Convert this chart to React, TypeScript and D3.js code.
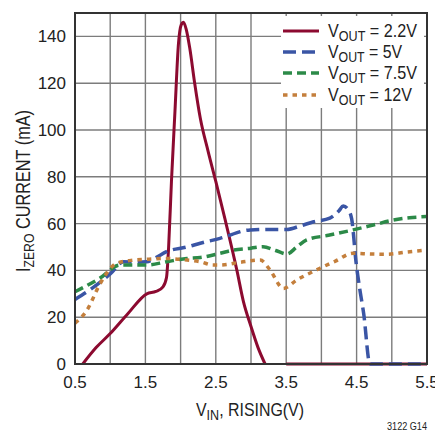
import React from "react";
import * as d3 from "d3";

const vin22 = [0.61, 0.8, 1.0, 1.25, 1.52, 1.65, 1.75, 1.8, 1.83, 1.87, 1.92, 1.97, 2.01, 2.04, 2.08, 2.13, 2.2, 2.28, 2.39, 2.5, 2.63, 2.8, 2.89, 3.0, 3.1, 3.2];
const iz22 = [0, 7, 13, 21.5, 30, 31, 33, 37, 50, 78, 108, 137, 145, 146, 143, 135, 120, 105, 91, 78, 62, 40, 27, 16, 7, 0];
const vin22b = [3.5, 5.5];
const iz22b = [0, 0];

const vin5 = [0.5, 0.75, 1.0, 1.19, 1.35, 1.52, 1.65, 1.8, 2.09, 2.28, 2.56, 2.99, 3.3, 3.51, 3.7, 3.89, 4.12, 4.25, 4.31, 4.38, 4.43, 4.46, 4.48, 4.53, 4.6, 4.69, 5.5];
const iz5 = [27.6, 32.5, 38.5, 43.7, 43.5, 43.7, 45.5, 48, 50, 51.6, 53.7, 57.3, 57.5, 57.5, 59, 60.8, 62.3, 65.5, 67.5, 66, 62, 54, 47, 35, 21.7, 0, 0];

const vin75 = [0.5, 0.85, 1.14, 1.52, 1.8, 2.09, 2.28, 2.56, 2.75, 3.0, 3.17, 3.35, 3.51, 3.65, 3.79, 4.1, 4.45, 4.75, 5.02, 5.25, 5.5];
const iz75 = [30.9, 36.6, 42.3, 42.3, 43.7, 45.1, 45.5, 47.3, 48.7, 49.5, 50.1, 48.5, 47, 50, 53, 55, 57.3, 59.5, 61.5, 62.5, 63];

const vin12 = [0.5, 0.67, 0.86, 1.09, 1.33, 1.55, 1.8, 2.09, 2.28, 2.46, 2.56, 2.85, 3.13, 3.27, 3.46, 3.65, 3.98, 4.2, 4.45, 4.7, 4.93, 5.2, 5.5];
const iz12 = [17.4, 23, 34.5, 43, 44.4, 44.8, 45.1, 44.4, 43.7, 42.3, 42.3, 43.5, 44.4, 40.2, 32.3, 35.9, 40.9, 44, 47.3, 47, 46.9, 47.8, 48.7];

const xTickLabels = ["0.5", "1.5", "2.5", "3.5", "4.5", "5.5"];
const yTickLabels = ["0", "20", "40", "60", "80", "100", "120", "140"];
const legendLabels = ["2.2V", "5V", "7.5V", "12V"];

const RED = "#8c0a30";
const BLUE = "#3a55a5";
const GREEN = "#2c8a48";
const ORANGE = "#c47f3c";

const L = 75, R = 427, T = 13, B = 364;
const FONT = "'Liberation Sans', Arial, sans-serif";

export default function App() {
  const x = d3.scaleLinear().domain([0.5, 5.5]).range([L, R]);
  const y = d3.scaleLinear().domain([0, 150]).range([B, T]);
  const line = d3
    .line<[number, number]>()
    .x((d) => x(d[0]))
    .y((d) => y(d[1]))
    .curve(d3.curveMonotoneX);
  const zip = (a: number[], b: number[]) => a.map((v, i) => [v, b[i]] as [number, number]);

  const series = [
    { d: [zip(vin22, iz22), zip(vin22b, iz22b)], color: RED, dash: "none", w: 3 },
    { d: [zip(vin5, iz5)], color: BLUE, dash: "13 6", w: 3.5 },
    { d: [zip(vin75, iz75)], color: GREEN, dash: "9 5", w: 3.5 },
    { d: [zip(vin12, iz12)], color: ORANGE, dash: "4.5 5", w: 3.5 },
  ];

  const xGrid = d3.range(0.5, 5.51, 0.5);
  const yGrid = d3.range(0, 151, 20);
  const legendY = [31, 52, 73, 95];
  const legendLen = [89, 74, 89, 84];

  return (
    <svg width={435} height={433} style={{ position: "absolute", left: 0, top: 0, background: "#fff" }}>
      <rect x={0} y={0} width={435} height={433} fill="#fff" />
      {xGrid.map((v) => (
        <line key={"xg" + v} x1={x(v)} x2={x(v)} y1={T} y2={B} stroke="#7c7c7c" strokeWidth={1.4} />
      ))}
      {yGrid.map((v) => (
        <line key={"yg" + v} x1={L} x2={R} y1={y(v)} y2={y(v)} stroke="#7c7c7c" strokeWidth={1.4} />
      ))}
      <rect x={281} y={16} width={143} height={92} fill="#fff" />
      {series.map((s, i) =>
        s.d.map((seg, j) => (
          <path
            key={"s" + i + "_" + j}
            d={line(seg) || ""}
            fill="none"
            stroke={s.color}
            strokeWidth={s.w}
            strokeDasharray={s.dash}
            strokeLinejoin="round"
          />
        ))
      )}
      <rect x={L} y={T} width={R - L} height={B - T} fill="none" stroke="#333" strokeWidth={2} />
      {yTickLabels.map((t) => (
        <text key={"yt" + t} x={66} y={y(+t) + 6} textAnchor="end" fontSize={17} fontFamily={FONT} fill="#222">
          {t}
        </text>
      ))}
      {xTickLabels.map((t) => (
        <text key={"xt" + t} x={x(+t)} y={388} textAnchor="middle" fontSize={17} fontFamily={FONT} fill="#222">
          {t}
        </text>
      ))}
      {series.map((s, i) => (
        <g key={"lg" + i}>
          <line x1={283} x2={319} y1={legendY[i]} y2={legendY[i]} stroke={s.color} strokeWidth={s.w} strokeDasharray={s.dash} />
          <text
            x={328}
            y={legendY[i] + 6}
            fontSize={18}
            fontFamily={FONT}
            fill="#222"
            textLength={legendLen[i]}
            lengthAdjust="spacingAndGlyphs"
          >
            V<tspan fontSize={14} dy={4}>OUT</tspan>
            <tspan dy={-4}>{" = " + legendLabels[i]}</tspan>
          </text>
        </g>
      ))}
      <text x={196} y={416} fontSize={19} fontFamily={FONT} fill="#222" textLength={108} lengthAdjust="spacingAndGlyphs">
        V<tspan fontSize={15} dy={4}>IN</tspan>
        <tspan dy={-4}>, RISING(V)</tspan>
      </text>
      <text
        transform="translate(30,272) rotate(-90)"
        x={0}
        y={0}
        fontSize={20}
        fontFamily={FONT}
        fill="#222"
        textLength={162}
        lengthAdjust="spacingAndGlyphs"
      >
        I<tspan fontSize={15} dy={4}>ZERO</tspan>
        <tspan dy={-4}> CURRENT (mA)</tspan>
      </text>
      <text x={427} y={430} textAnchor="end" fontSize={10} fontFamily={FONT} fill="#222" textLength={40} lengthAdjust="spacingAndGlyphs">
        3122 G14
      </text>
    </svg>
  );
}
